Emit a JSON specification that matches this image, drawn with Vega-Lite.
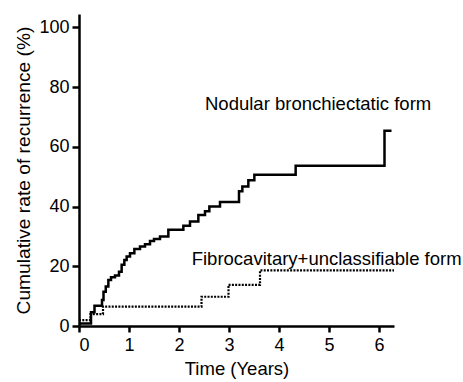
{
  "$schema": "https://vega.github.io/schema/vega-lite/v6.json",
  "width": 315,
  "height": 312,
  "autosize": "none",
  "padding": {"left": 79, "top": 14, "right": 69, "bottom": 56},
  "background": "white",
  "config": {
    "view": {"stroke": null},
    "font": "Liberation Sans",
    "axis": {
      "grid": false,
      "domainColor": "black",
      "domainWidth": 2.5,
      "tickColor": "black",
      "tickWidth": 2.5,
      "tickSize": 6,
      "labelColor": "black",
      "labelFontSize": 18,
      "labelFont": "Liberation Sans",
      "titleColor": "black",
      "titleFont": "Liberation Sans",
      "titleFontSize": 18.5,
      "titleFontWeight": 400
    }
  },
  "datasets": {
    "nodular": [
      {"t": 0, "v": 0.8},
      {"t": 0.24, "v": 4.6},
      {"t": 0.31, "v": 6.8},
      {"t": 0.46, "v": 8.7},
      {"t": 0.49, "v": 11.5},
      {"t": 0.535, "v": 13.2},
      {"t": 0.587, "v": 15.4},
      {"t": 0.64, "v": 16.3},
      {"t": 0.72, "v": 16.9},
      {"t": 0.8, "v": 18.2},
      {"t": 0.853, "v": 20.5},
      {"t": 0.907, "v": 22.1},
      {"t": 0.953, "v": 23.3},
      {"t": 1.02, "v": 24.4},
      {"t": 1.107, "v": 25.8},
      {"t": 1.22, "v": 26.6},
      {"t": 1.32, "v": 27.4},
      {"t": 1.42, "v": 28.5},
      {"t": 1.5, "v": 29.1},
      {"t": 1.62, "v": 30.0},
      {"t": 1.787, "v": 32.2},
      {"t": 2.087, "v": 33.6},
      {"t": 2.22, "v": 35.0},
      {"t": 2.387, "v": 37.2},
      {"t": 2.52, "v": 38.4},
      {"t": 2.607, "v": 40.0},
      {"t": 2.82, "v": 41.5},
      {"t": 3.2, "v": 45.1},
      {"t": 3.267, "v": 46.7},
      {"t": 3.387, "v": 48.8},
      {"t": 3.507, "v": 50.7},
      {"t": 4.333, "v": 53.7},
      {"t": 6.11, "v": 65.4},
      {"t": 6.25, "v": 65.4}
    ],
    "fibro": [
      {"t": 0, "v": 2.0},
      {"t": 0.23, "v": 4.0},
      {"t": 0.48, "v": 6.5},
      {"t": 2.45, "v": 9.8},
      {"t": 2.99, "v": 13.8},
      {"t": 3.62, "v": 18.6},
      {"t": 6.3, "v": 18.6}
    ],
    "labels": [
      {"t": 2.52, "v": 72.5, "label": "Nodular bronchiectatic form"},
      {"t": 2.254, "v": 20.5, "label": "Fibrocavitary+unclassifiable form"}
    ]
  },
  "layer": [
    {
      "data": {"name": "fibro"},
      "mark": {"type": "line", "interpolate": "step-after", "color": "black", "strokeWidth": 2.2, "strokeDash": [2, 1.3]},
      "encoding": {
        "x": {"field": "t", "type": "quantitative", "scale": {"domain": [0, 6.3], "nice": false, "zero": false},
          "axis": {"values": [0, 1, 2, 3, 4, 5, 6], "title": "Time (Years)", "labelPadding": 4, "titlePadding": 5, "titleFontWeight": "normal", "titleFont": "Liberation Sans"}},
        "y": {"field": "v", "type": "quantitative", "scale": {"domain": [0, 104.5], "nice": false},
          "axis": {"values": [0, 20, 40, 60, 80, 100], "title": "Cumulative  rate of recurrence (%)", "labelPadding": 3, "tickSize": 7, "titlePadding": 5, "titleFontSize": 19.2, "titleFontWeight": "normal", "titleFont": "Liberation Sans"}}
      }
    },
    {
      "data": {"name": "nodular"},
      "mark": {"type": "line", "interpolate": "step-after", "color": "black", "strokeWidth": 2.5},
      "encoding": {
        "x": {"field": "t", "type": "quantitative"},
        "y": {"field": "v", "type": "quantitative"}
      }
    },
    {
      "data": {"name": "labels"},
      "mark": {"type": "text", "align": "left", "baseline": "alphabetic", "fontSize": 18.5, "font": "Liberation Sans", "color": "black"},
      "encoding": {
        "x": {"field": "t", "type": "quantitative"},
        "y": {"field": "v", "type": "quantitative"},
        "text": {"field": "label"}
      }
    }
  ]
}
